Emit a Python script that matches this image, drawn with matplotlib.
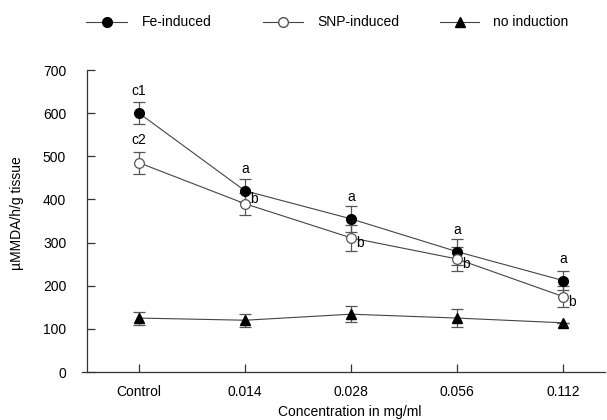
import matplotlib
matplotlib.use("Agg")
import matplotlib.pyplot as plt
from matplotlib.lines import Line2D

plt.rcParams['font.family'] = ['Liberation Sans', 'DejaVu Sans']

categories = ["Control", "0.014", "0.028", "0.056", "0.112"]
fe = [600, 420, 355, 279, 212]
fe_err = [25, 27, 30, 30, 23]
snp = [485, 390, 311, 262, 175]
snp_err = [26, 25, 30, 28, 24]
noind = [125, 120, 134, 125, 114]
noind_err = [15, 15, 19, 21, 0]
fe_labels = ["c1", "a", "a", "a", "a"]
snp_labels = ["c2", "b", "b", "b", "b"]
series_names = ["Fe-induced", "SNP-induced", "no induction"]

W, H = 607, 420
fig = plt.figure(figsize=(W/100, H/100), dpi=100)
ax = fig.add_axes([82/W, 48/H, (605-82)/W, (372-70)/H])
x = list(range(len(categories)))

FS = 10
lc = '#444444'
ec = '#555555'
for vals, errs in [(fe, fe_err), (snp, snp_err), (noind, noind_err)]:
    ax.errorbar(x, vals, yerr=errs, fmt='none', ecolor=ec, elinewidth=0.9,
                capsize=4, capthick=0.9, zorder=2)
ax.plot(x, fe, '-', color=lc, lw=0.8, marker='o', ms=7, mfc='black', mec='black', zorder=3)
ax.plot(x, snp, '-', color=lc, lw=0.8, marker='o', ms=7, mfc='white', mec='#555555', mew=0.9, zorder=3)
ax.plot(x, noind, '-', color=lc, lw=0.8, marker='^', ms=7, mfc='black', mec='black', zorder=3)

# significance letters
ax.text(0, fe[0] + 52, fe_labels[0], ha='center', va='center', fontsize=FS)
ax.text(0, snp[0] + 53, snp_labels[0], ha='center', va='center', fontsize=FS)
for i in range(1, len(categories)):
    ax.text(i, fe[i] + 50, fe_labels[i], ha='center', va='center', fontsize=FS)
    dy = 10 if i == 1 else -12
    ax.text(i + 0.05, snp[i] + dy, snp_labels[i], ha='left', va='center', fontsize=FS)

ax.set_xlim(-(139-82)/106, (605-139)/106)
ax.set_ylim(0, 700)
ax.set_xticks(x)
ax.set_xticklabels(categories)
ax.set_yticks(range(0, 701, 100))
ax.spines['top'].set_visible(False)
ax.spines['right'].set_visible(False)
ax.spines['left'].set_position(('data', -(139-87)/106))
for s in ['left', 'bottom']:
    ax.spines[s].set_color('#333333')
    ax.spines[s].set_linewidth(0.9)
ax.tick_params(axis='both', direction='in', labelsize=FS, color='#333333', length=6, width=0.9)
ax.tick_params(axis='x', pad=9)
ax.tick_params(axis='y', pad=15)

fig.text(17/W, 1 - 213/H, "µMMDA/h/g tissue", rotation=90, ha='center', va='center', fontsize=FS)
fig.text(350/W, 1 - 412/H, "Concentration in mg/ml", ha='center', va='center', fontsize=FS)

# legend row
styles = [dict(marker='o', mfc='black', mec='black'),
          dict(marker='o', mfc='white', mec='#555555'),
          dict(marker='^', mfc='black', mec='black')]
line_x = [(86, 127), (263, 303), (440, 479)]
text_x = [142, 317, 493]
ly = 1 - 22/H
for name, st, (x0, x1), tx in zip(series_names, styles, line_x, text_x):
    fig.add_artist(Line2D([x0/W, x1/W], [ly, ly], color=lc, lw=0.8, transform=fig.transFigure))
    fig.add_artist(Line2D([(x0 + x1)/2/W], [ly], ms=7, ls='none', transform=fig.transFigure, **st))
    fig.text(tx/W, ly, name, ha='left', va='center', fontsize=FS)

fig.savefig("out.png", dpi=100)
